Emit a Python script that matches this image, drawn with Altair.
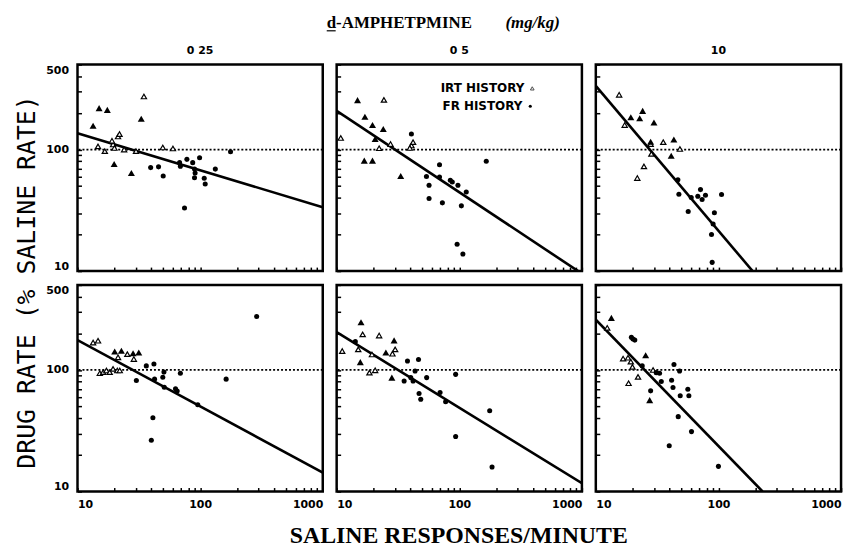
import altair as alt
import pandas as pd

# ---------------- data ----------------
DOSES = ["0 25", "0 5", "10"]
X_TICKS = [10, 20, 30, 40, 50, 60, 70, 80, 90, 100, 200, 300, 400, 500, 600, 700, 800, 900, 1000]
Y_TICKS = [10, 20, 30, 40, 50, 60, 70, 80, 90, 100, 200, 300, 400, 500]
REF_LEVEL = [100]

# top row, dose 0 25
T1_OPEN = [(14.7, 106), (16.7, 97), (19.5, 110), (19.1, 118), (21.4, 128), (22.0, 134), (20.0, 103),
           (24.0, 100), (30.0, 97), (49.6, 104), (60.0, 102), (34.8, 273)]
T1_FILLED = [(13.4, 157), (15.0, 219), (17.5, 212), (33.1, 179), (19.9, 76), (27.5, 64)]
T1_DOTS = [(39.5, 71), (45.8, 72), (50.0, 60.5), (68, 78), (69, 73), (74.6, 33), (78, 83), (87, 78),
           (99, 85.5), (90, 69), (91, 64), (90, 58.6), (108, 58), (110, 52), (133, 69), (177, 96)]
T1_FIT = [(10, 136), (1000, 33.5)]

# top row, dose 0 5
T2_OPEN = [(10.8, 124.5), (24.3, 256), (22.2, 102.5), (27.5, 111), (40.7, 108), (42, 115), (39.5, 103)]
T2_FILLED = [(14.8, 255), (17, 186), (19.6, 159), (24, 147.5), (16.8, 81), (19.6, 81), (33.3, 60.5),
             (20.6, 122)]
T2_DOTS = [(40.7, 134), (69, 75), (54, 60), (56.7, 50.8), (56.7, 39.5), (72.8, 36.4), (69, 59.4),
           (84.5, 55.8), (87.7, 54), (97.5, 50.8), (104, 34.4), (96, 16.6), (107, 13.8), (166, 80),
           (114, 44.8)]
T2_FIT = [(10, 208), (931, 10)]

# top row, dose 10
T3_OPEN = [(15.5, 282), (17.2, 159), (35.5, 115), (28.4, 92), (24.7, 72.6), (21.8, 58.3), (48.5, 101),
           (28, 111)]
T3_FILLED = [(19.3, 184), (22.8, 181), (24.1, 208), (29.8, 167), (43.3, 121), (41.2, 89), (28, 116)]
T3_DOTS = [(46.7, 56.5), (47.6, 42.8), (56.7, 30.9), (67.9, 41.3), (71.4, 46.8), (78.4, 42), (73.6, 38.8),
           (106, 42.6), (92.7, 30.2), (90.5, 24.4), (87.8, 20), (88.9, 11.8), (60, 40.3)]
T3_FIT = [(10, 334), (190, 10)]

# bottom row, dose 0 25
B1_OPEN = [(13.4, 168), (14.7, 174), (25.5, 135), (28.8, 123), (21.4, 127), (15.2, 94), (16.2, 96),
           (17.2, 99), (18.3, 96), (19.5, 102), (21.1, 99), (22.1, 99)]
B1_FILLED = [(20.1, 142), (22.8, 144), (28.4, 137), (31.6, 139)]
B1_DOTS = [(30.2, 82), (36.4, 108), (42, 112), (42.5, 84), (49.6, 87), (50.7, 96), (69, 94), (51, 72),
           (63, 70), (65, 67), (41.2, 40.5), (40, 26.4), (163, 84), (289, 275), (95.7, 51.8)]
B1_FIT = [(10, 176), (1000, 14.3)]

# bottom row, dose 0 5
B2_OPEN = [(16.3, 196), (22.2, 192), (11.1, 143), (15, 147.5), (19.4, 134), (18.5, 95), (20.6, 99.4),
           (28.5, 136), (30, 147.5)]
B2_FILLED = [(15.8, 247), (29.4, 175), (15.6, 116), (25.2, 139), (28.2, 86.5)]
B2_DOTS = [(14.2, 171), (37.8, 118.5), (46.5, 122), (35.5, 81), (40.2, 86.5), (43.6, 98), (54.2, 86.5),
           (47, 64), (48.5, 57.5), (69.7, 65.3), (77.4, 54.7), (93.4, 92), (93.4, 28.3), (177, 46.2),
           (185, 15.9), (42, 81)]
B2_FIT = [(10, 205), (1000, 11.7)]

# bottom row, dose 10
B3_OPEN = [(12.4, 222), (16.7, 124), (18.3, 126), (19.3, 117), (19.9, 106), (29.3, 100), (22.1, 87.7),
           (18.5, 77.8)]
B3_FILLED = [(13.4, 268), (25.5, 132), (27.5, 56.5)]
B3_DOTS = [(19.5, 186), (20.1, 180), (20.8, 176), (23.9, 108), (31.1, 95), (33.1, 94), (34.2, 80.3),
           (28, 67.3), (43.4, 111), (48.2, 98), (41.5, 82.3), (42.6, 71.8), (48.8, 61.3), (56.3, 69.5),
           (57.4, 61.3), (47, 41.3), (60.3, 31.1), (39.7, 23.8), (100, 16.1)]
B3_FIT = [(10, 259), (229, 10)]

TITLE_MAIN = "d-AMPHETPMINE"
TITLE_UNITS = "(mg/kg)"
Y_TITLE = "DRUG RATE (% SALINE RATE)"
X_TITLE = "SALINE RESPONSES/MINUTE"
LEGEND_IRT = "IRT HISTORY"
LEGEND_FR = "FR HISTORY"

# ---------------- styling ----------------
W, H = 247, 208
TICK_FONT = "DejaVu Sans"
XSCALE = alt.Scale(type="log", domain=[10, 1000], nice=False)
YSCALE = alt.Scale(type="log", domain=[10, 500], nice=False)


def df(pairs):
    return pd.DataFrame(pairs, columns=["x", "y"])


def x_axis(labels):
    return alt.Axis(values=X_TICKS, labels=labels, title=None, grid=False, domain=False,
                    ticks=True, tickSize=4, tickWidth=1.5, tickColor="black", offset=-4,
                    labelExpr="indexof([10,100,1000], datum.value) >= 0 ? format(datum.value, 'd') : ''",
                    labelFlush=True, labelPadding=7, labelFont=TICK_FONT, labelFontSize=11,
                    labelFontWeight="bold", labelColor="black")


def y_axis(labels):
    return alt.Axis(values=Y_TICKS, labels=labels, title=None, grid=False, domain=False,
                    ticks=True, tickSize=4, tickWidth=1.5, tickColor="black", offset=-4,
                    labelExpr="indexof([10,100,500], datum.value) >= 0 ? format(datum.value, 'd') : ''",
                    labelFlush=True, labelPadding=9, labelFont=TICK_FONT, labelFontSize=11,
                    labelFontWeight="bold", labelColor="black")


def panel(open_pts, filled_pts, dots, fit, xlab, ylab, title=None, extra=()):
    xe = alt.X("x:Q", scale=XSCALE, axis=x_axis(xlab))
    ye = alt.Y("y:Q", scale=YSCALE, axis=y_axis(ylab))
    ref = alt.Chart(pd.DataFrame({"y": REF_LEVEL})).mark_rule(
        color="black", strokeWidth=1.8, strokeDash=[2, 2]).encode(y=ye)
    line = alt.Chart(df(fit)).mark_line(color="black", strokeWidth=2.6, clip=True).encode(x=xe, y=ye)
    o = alt.Chart(df(open_pts)).mark_point(shape="triangle-up", filled=False, stroke="black",
                                           strokeWidth=1.2, size=28, fill="white", opacity=1).encode(x=xe, y=ye)
    f = alt.Chart(df(filled_pts)).mark_point(shape="triangle-up", filled=True, color="black",
                                             size=50, opacity=1).encode(x=xe, y=ye)
    d = alt.Chart(df(dots)).mark_circle(color="black", size=26, opacity=1).encode(x=xe, y=ye)
    layers = [ref, line, o, f, d] + list(extra)
    props = dict(width=W, height=H)
    if title is not None:
        props["title"] = alt.TitleParams(title, anchor="middle", font=TICK_FONT, fontSize=11,
                                         fontWeight="bold", color="black", offset=8)
    return alt.layer(*layers).properties(**props)


def label(text, x, y, **kw):
    return alt.Chart(pd.DataFrame({"t": [text]})).mark_text(**kw).encode(
        text="t:N", x=alt.value(x), y=alt.value(y))


one = pd.DataFrame({"a": [0]})

# y-axis title (attached to top-left panel)
ytitle = label(Y_TITLE, -51, 219, angle=270, font="DejaVu Sans Mono", fontSize=25,
               align="center", baseline="middle", color="black")

# legend (attached to top-middle panel)
leg1 = label(LEGEND_IRT, 189, 24, font=TICK_FONT, fontSize=12, fontWeight="bold",
             align="right", baseline="middle", color="black")
leg2 = label(LEGEND_FR, 187, 42, font=TICK_FONT, fontSize=12, fontWeight="bold",
             align="right", baseline="middle", color="black")
leg1_sym = alt.Chart(one).mark_point(shape="triangle-up", filled=False, stroke="black", strokeWidth=1,
                                     size=14).encode(x=alt.value(197), y=alt.value(24))
leg2_sym = alt.Chart(one).mark_circle(color="black", size=10, opacity=1).encode(
    x=alt.value(195), y=alt.value(42))

# main header and x-axis title (attached to bottom-middle panel)
HEAD_Y = -264
head1 = label(TITLE_MAIN, -10, HEAD_Y, font="Liberation Serif", fontSize=17, fontWeight="bold",
              align="left", baseline="middle", color="black")
head2 = label(TITLE_UNITS, 170, HEAD_Y, font="Liberation Serif", fontSize=17, fontWeight="bold",
              fontStyle="italic", align="left", baseline="middle", color="black")
underline = alt.Chart(one).mark_rule(color="black", strokeWidth=1.2).encode(
    x=alt.value(-10), x2=alt.value(-1), y=alt.value(HEAD_Y + 8))
xtitle = label(X_TITLE, 123, 253, font="Liberation Serif", fontSize=24,
               fontWeight="bold", align="center", baseline="middle", color="black")

p1 = panel(T1_OPEN, T1_FILLED, T1_DOTS, T1_FIT, False, True, DOSES[0], extra=[ytitle])
p2 = panel(T2_OPEN, T2_FILLED, T2_DOTS, T2_FIT, False, False, DOSES[1],
           extra=[leg1, leg2, leg1_sym, leg2_sym])
p3 = panel(T3_OPEN, T3_FILLED, T3_DOTS, T3_FIT, False, False, DOSES[2])
p4 = panel(B1_OPEN, B1_FILLED, B1_DOTS, B1_FIT, True, True)
p5 = panel(B2_OPEN, B2_FILLED, B2_DOTS, B2_FIT, True, False,
           extra=[head1, head2, underline, xtitle])
p6 = panel(B3_OPEN, B3_FILLED, B3_DOTS, B3_FIT, True, False)

chart = alt.concat(p1, p2, p3, p4, p5, p6, columns=3, spacing=14, bounds="flush").properties(
    padding={"left": 5, "top": 2, "right": 5, "bottom": 5}, background="white"
).configure_view(stroke="black", strokeWidth=2.5)

chart.save("out.html", embed_options={"renderer": "svg", "actions": False})
